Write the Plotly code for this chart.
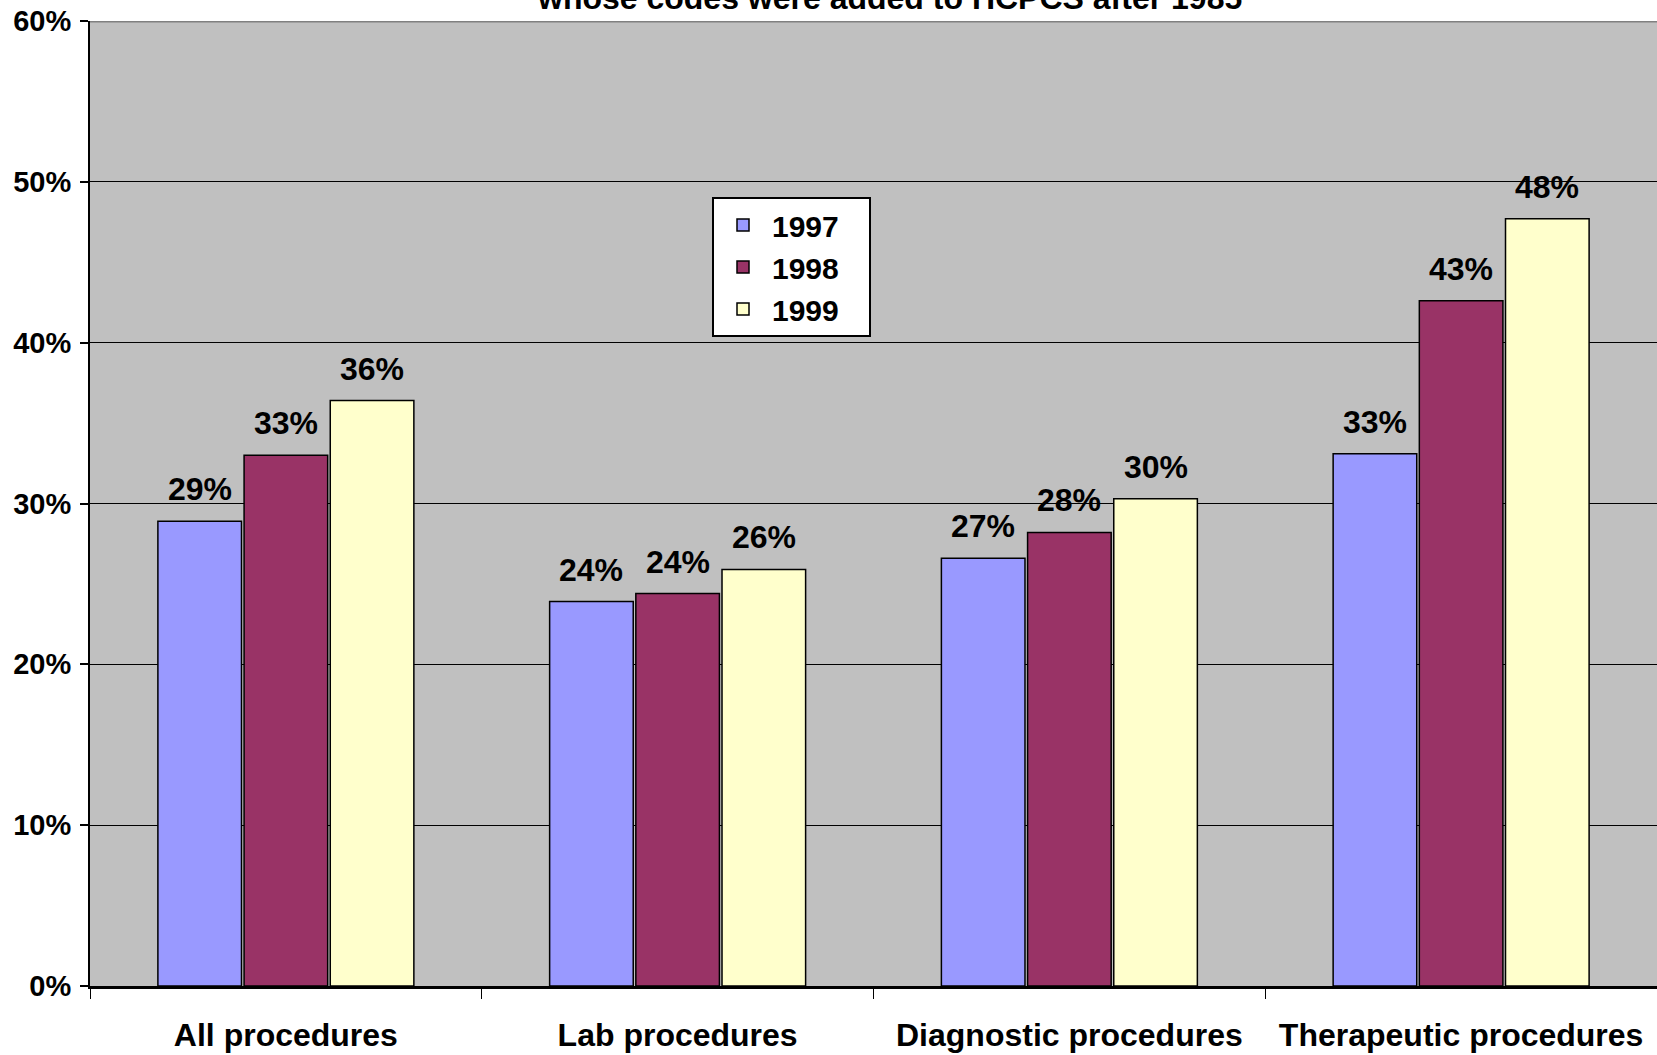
import plotly.graph_objects as go

categories = ["All procedures", "Lab procedures", "Diagnostic procedures", "Therapeutic procedures"]
years = ["1997", "1998", "1999"]
share_1997 = [0.289, 0.239, 0.266, 0.331]
share_1998 = [0.330, 0.244, 0.282, 0.426]
share_1999 = [0.364, 0.259, 0.303, 0.477]
y_ticks = [0, 0.1, 0.2, 0.3, 0.4, 0.5, 0.6]
y_tick_labels = ["0%", "10%", "20%", "30%", "40%", "50%", "60%"]
subtitle = "whose codes were added to HCPCS after 1985"

colors = ["#9999FF", "#993366", "#FFFFCC"]
series = [share_1997, share_1998, share_1999]
FONT = "Liberation Sans, Arial, sans-serif"

BARGAP = 0.34
fig = go.Figure()
for name, vals, col in zip(years, series, colors):
    fig.add_trace(go.Bar(
        name=name + "\u00a0\u00a0\u00a0", x=categories, y=vals,
        marker=dict(color=col, line=dict(color="black", width=1.5)),
    ))

# value labels above each bar, offset to match the grouped bar slots
slot = (1 - BARGAP) / len(series)
annotations = []
for j, vals in enumerate(series):
    for i, v in enumerate(vals):
        annotations.append(dict(
            x=i + (j - (len(series) - 1) / 2) * slot, y=v, xref="x", yref="y",
            text="<b>%d%%</b>" % round(v * 100), showarrow=False,
            yanchor="bottom", yshift=12,
            font=dict(family=FONT, size=32, color="black"),
        ))

annotations.append(dict(
    x=(889 - 90) / 1567, y=1, xref="paper", yref="paper",
    text="<b>" + subtitle + "</b>", showarrow=False,
    xanchor="center", yanchor="bottom", yshift=3,
    font=dict(family=FONT, size=32, color="black"),
))

fig.update_layout(
    width=1657, height=1055,
    margin=dict(l=90, r=0, t=21, b=69),
    paper_bgcolor="white", plot_bgcolor="#C0C0C0",
    barmode="group", bargap=BARGAP, bargroupgap=0.03,
    font=dict(family=FONT, color="black"),
    showlegend=True,
    legend=dict(
        x=(712 - 90) / 1567, y=(986 - 197) / 965, xanchor="left", yanchor="top",
        bgcolor="white", bordercolor="black", borderwidth=2,
        font=dict(family=FONT, size=30, color="black", weight="bold"),
        tracegroupgap=0, itemwidth=48,
    ),
    annotations=annotations,
    shapes=[dict(type="line", xref="paper", yref="y", x0=0, x1=1, y0=0.6, y1=0.6,
                 line=dict(color="#808080", width=3))],
    xaxis=dict(
        type="category", categoryorder="array", categoryarray=categories,
        ticktext=["<b>%s</b>" % c for c in categories], tickvals=categories,
        tickson="boundaries",
        ticks="outside", ticklen=10, tickwidth=1, tickcolor="black",
        showline=True, linecolor="black", linewidth=3,
        showgrid=False, zeroline=False, ticklabelstandoff=19, automargin=False,
        tickfont=dict(family=FONT, size=32, color="black"),
    ),
    yaxis=dict(
        range=[0, 0.6], tickmode="array", tickvals=y_ticks,
        ticktext=["<b>%s</b>" % t for t in y_tick_labels],
        ticks="outside", ticklen=8, tickwidth=2, tickcolor="black",
        showline=True, linecolor="black", linewidth=2,
        showgrid=True, gridcolor="black", gridwidth=1, zeroline=False,
        ticklabelstandoff=3, automargin=False,
        tickfont=dict(family=FONT, size=29, color="black"),
    ),
)

fig.write_html("out.html")
